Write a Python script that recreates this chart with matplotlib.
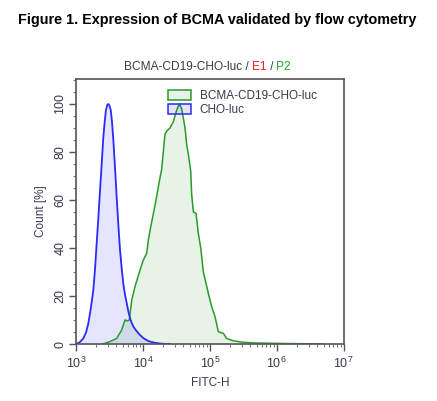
import numpy as np
import matplotlib
matplotlib.use("Agg")
import matplotlib.pyplot as plt
from matplotlib.patches import Patch

plt.rcParams['font.family'] = ['Liberation Sans', 'DejaVu Sans']
plt.rcParams['mathtext.fontset'] = 'custom'
plt.rcParams['mathtext.rm'] = 'Liberation Sans'
plt.rcParams['mathtext.it'] = 'Liberation Sans'

# ---- data (log10 FITC-H, Count %) ----
cho_logx = [3.00, 3.05, 3.109, 3.15, 3.184, 3.22, 3.259, 3.285, 3.309, 3.335, 3.359, 3.385,
            3.408, 3.43, 3.448, 3.466, 3.483, 3.50, 3.519, 3.538, 3.558, 3.583, 3.608,
            3.633, 3.658, 3.683, 3.707, 3.733, 3.758, 3.783, 3.807, 3.833, 3.858, 3.883,
            3.908, 3.957, 4.006, 4.056, 4.106, 4.18, 4.256, 4.33, 4.405]
cho_count = [0.0, 0.6, 2.3, 4.8, 8.6, 14.5, 22.5, 31.5, 42, 53, 64, 75.5,
             86, 93, 97.5, 99.5, 100, 99.3, 97.5, 92.5, 85, 73.5, 61,
             49.5, 39, 31.5, 25, 20.5, 17, 13.5, 10.8, 8.7, 7.2, 6.2,
             5.3, 3.7, 2.5, 1.6, 1.0, 0.5, 0.2, 0.05, 0.0]

bcma_logx = [3.40, 3.508, 3.607, 3.682, 3.732, 3.767, 3.797, 3.833, 3.882, 3.957, 4.006,
             4.057, 4.081, 4.117, 4.157, 4.196, 4.23, 4.281, 4.33, 4.365, 4.405, 4.454,
             4.505, 4.544, 4.579, 4.629, 4.654, 4.679, 4.714, 4.729, 4.754, 4.794, 4.828,
             4.864, 4.903, 4.978, 5.028, 5.077, 5.127, 5.202, 5.252, 5.352, 5.501, 5.7,
             5.9, 6.1, 6.3, 6.5, 6.7]
bcma_count = [0.0, 1.0, 2.3, 5.8, 10, 9.6, 10, 18.3, 23.9, 30.8, 35,
              37.8, 43.3, 48.9, 54.4, 60, 65.5, 73, 87.5, 89, 90, 92.6,
              97.5, 100, 98, 90, 83, 79, 72, 62, 55, 54.4, 46,
              40, 30, 21, 15.5, 11.4, 5.1, 4.4, 2.3, 1.3, 0.7, 0.4,
              0.3, 0.2, 0.15, 0.1, 0.0]

series_labels = ['BCMA-CD19-CHO-luc', 'CHO-luc']
x_ticks_exp = [3, 4, 5, 6, 7]
y_ticks = [0, 20, 40, 60, 80, 100]

fig = plt.figure(figsize=(4.37, 4.01), dpi=100)
ax = fig.add_axes([76/437, 1-344/401, (343.7-76)/437, (344-79)/401])

bx = 10 ** np.array(bcma_logx)
cx = 10 ** np.array(cho_logx)
green = '#2a9a2a'
blue = '#2a2aff'
ax.fill_between(bx, bcma_count, 0, color=(0.0, 0.5, 0.0, 0.09), linewidth=0)
ax.plot(bx, bcma_count, color=green, lw=1.1)
ax.fill_between(cx, cho_count, 0, color=(0.0, 0.0, 1.0, 0.10), linewidth=0)
ax.plot(cx, cho_count, color=blue, lw=1.3)

ax.set_xscale('log')
ax.set_xlim(1e3, 1e7)
ax.set_ylim(0, 110.4)
ax.set_xticks([10.0 ** e for e in x_ticks_exp])
ax.set_xticklabels([r'$10^{%d}$' % e for e in x_ticks_exp])
ax.set_yticks(y_ticks)
ax.set_yticklabels([str(v) for v in y_ticks], rotation=90, va='center')
ax.set_yticks(np.arange(0, 111, 5), minor=True)

tc = '#3a3a4a'
for s in ax.spines.values():
    s.set_color('#555555')
    s.set_linewidth(1.2)
ax.tick_params(axis='both', which='major', length=5, width=1, color='#555555',
               labelsize=9, labelcolor=tc)
ax.tick_params(axis='both', which='minor', length=2.5, width=0.8, color='#777777')
ax.tick_params(axis='y', pad=2)

ax.set_xlabel('FITC-H', fontsize=8.5, color=tc, labelpad=4)
ax.set_ylabel('Count [%]', fontsize=8.5, color=tc, labelpad=5)

handles = [Patch(facecolor=(0.0, 0.5, 0.0, 0.09), edgecolor=green, lw=1.1),
           Patch(facecolor=(0.0, 0.0, 1.0, 0.10), edgecolor=blue, lw=1.1)]
leg = ax.legend(handles, series_labels, loc='upper left', bbox_to_anchor=(0.325, 0.975),
                frameon=False, fontsize=8.5, handlelength=2.0, handleheight=0.9,
                labelspacing=0.15, handletextpad=0.7, borderaxespad=0)
for t in leg.get_texts():
    t.set_color(tc)

fig.text(0.497, 1-20/401, 'Figure 1. Expression of BCMA validated by flow cytometry',
         ha='center', va='center', fontsize=10.4, fontweight='bold', color='black')

# multi-coloured axes title
parts = [('BCMA-CD19-CHO-luc / ', tc), ('E1', '#ff1a1a'), (' / ', tc), ('P2', '#1fae1f')]
fig.canvas.draw()
renderer = fig.canvas.get_renderer()
texts = []
for s, c in parts:
    texts.append(fig.text(0, 1-67/401, s, color=c, fontsize=8.6, va='center', ha='left'))
widths = [t.get_window_extent(renderer).width for t in texts]
total = sum(widths)
x0 = (123 + 292) / 2 - total / 2
for t, w in zip(texts, widths):
    t.set_x(x0 / 437)
    x0 += w

fig.savefig('out.png', dpi=100)
